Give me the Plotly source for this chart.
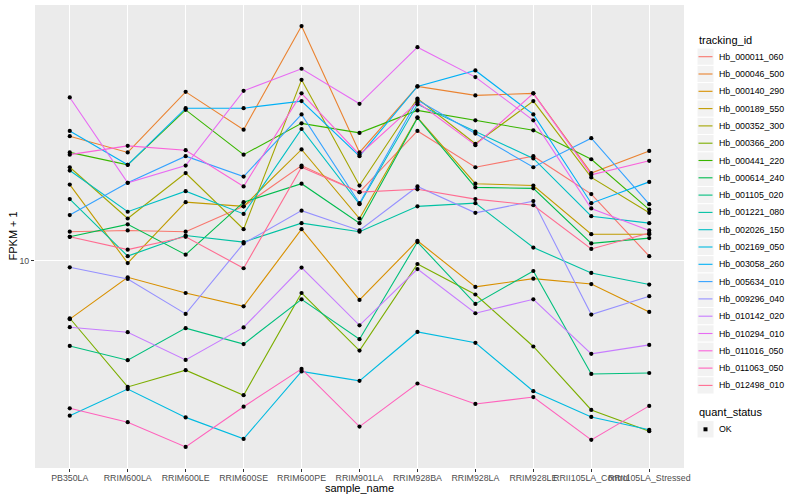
import math
import plotly.graph_objects as go

samples = ["PB350LA", "RRIM600LA", "RRIM600LE", "RRIM600SE", "RRIM600PE", "RRIM901LA",
           "RRIM928BA", "RRIM928LA", "RRIM928LE", "RRII105LA_Control", "RRII105LA_Stressed"]

tracking_ids = ["Hb_000011_060", "Hb_000046_500", "Hb_000140_290", "Hb_000189_550", "Hb_000352_300",
                "Hb_000366_200", "Hb_000441_220", "Hb_000614_240", "Hb_001105_020", "Hb_001221_080",
                "Hb_002026_150", "Hb_002169_050", "Hb_003058_260", "Hb_005634_010", "Hb_009296_040",
                "Hb_010142_020", "Hb_010294_010", "Hb_011016_050", "Hb_011063_050", "Hb_012498_010"]

colors = ["#F8766D", "#EA8331", "#D89000", "#C09B00", "#A3A500", "#7CAE00", "#39B600", "#00BB4E",
          "#00BF7D", "#00C1A3", "#00BFC4", "#00BAE0", "#00B0F6", "#35A2FF", "#9590FF", "#C77CFF",
          "#E76BF3", "#FA62DB", "#FF62BC", "#FF6C91"]

# FPKM + 1 per sample
Hb_000011_060 = [12.1, 12.2, 12.1, 14.3, 18.7, 15.7, 23.5, 18.5, 19.9, 15.5, 10.3]
Hb_000046_500 = [22.7, 20.4, 30.4, 23.7, 46.9, 20.4, 31.5, 29.7, 30.1, 17.8, 20.6]
Hb_000140_290 = [6.80, 8.96, 8.08, 7.40, 12.3, 7.72, 11.4, 8.41, 8.88, 8.57, 7.13]
Hb_000189_550 = [16.5, 9.84, 14.7, 14.3, 20.8, 13.2, 25.7, 16.6, 16.4, 11.9, 11.9]
Hb_000352_300 = [18.5, 13.2, 17.8, 12.3, 32.9, 16.4, 29.1, 21.6, 28.6, 17.3, 13.7]
Hb_000366_200 = [6.84, 4.35, 4.86, 4.12, 8.08, 5.53, 9.78, 8.00, 5.68, 3.74, 3.25]
Hb_000441_220 = [20.4, 18.8, 27.0, 20.1, 24.7, 23.2, 26.9, 25.2, 23.6, 19.5, 14.0]
Hb_000614_240 = [11.7, 12.7, 10.4, 14.7, 16.6, 12.8, 25.6, 16.2, 16.1, 11.2, 11.6]
Hb_001105_020 = [5.70, 5.19, 6.41, 5.77, 7.75, 5.96, 11.3, 7.52, 9.34, 4.74, 4.77]
Hb_001221_080 = [15.0, 10.3, 11.8, 11.3, 12.8, 12.1, 14.3, 14.6, 10.9, 9.22, 8.54]
Hb_002026_150 = [18.1, 13.8, 15.8, 13.6, 23.8, 14.5, 28.0, 23.4, 19.6, 13.4, 12.8]
Hb_002169_050 = [3.60, 4.29, 3.56, 3.09, 4.82, 4.53, 6.25, 5.82, 4.23, 3.57, 3.28]
Hb_003058_260 = [23.5, 18.8, 27.3, 27.3, 28.6, 19.9, 31.5, 35.0, 26.2, 14.6, 16.8]
Hb_005634_010 = [13.5, 16.7, 19.9, 17.4, 26.2, 14.6, 28.8, 23.1, 18.5, 22.4, 14.5]
Hb_009296_040 = [9.57, 8.86, 7.04, 11.2, 13.9, 12.2, 16.3, 13.7, 14.8, 7.01, 7.91]
Hb_010142_020 = [6.45, 6.24, 5.20, 6.44, 9.55, 6.53, 9.46, 7.07, 7.75, 5.41, 5.74]
Hb_010294_010 = [29.3, 16.7, 18.7, 30.6, 35.4, 28.1, 40.8, 33.5, 25.2, 14.1, 12.2]
Hb_011016_050 = [20.1, 21.3, 20.7, 16.3, 30.1, 20.1, 28.4, 21.4, 30.1, 17.6, 19.3]
Hb_011063_050 = [3.78, 3.45, 2.93, 3.82, 4.90, 3.35, 4.45, 3.89, 4.07, 3.07, 3.84]
Hb_012498_010 = [11.7, 10.75, 11.7, 9.51, 18.5, 15.7, 16.0, 15.0, 14.4, 10.8, 12.0]

series = [Hb_000011_060, Hb_000046_500, Hb_000140_290, Hb_000189_550, Hb_000352_300,
          Hb_000366_200, Hb_000441_220, Hb_000614_240, Hb_001105_020, Hb_001221_080,
          Hb_002026_150, Hb_002169_050, Hb_003058_260, Hb_005634_010, Hb_009296_040,
          Hb_010142_020, Hb_010294_010, Hb_011016_050, Hb_011063_050, Hb_012498_010]

quant_status = ["OK"]

FONT = "Liberation Sans, Arial, sans-serif"
W, H = 800, 500
ML, MR, MT, MB = 35, 116, 5, 32
PW, PH = W - ML - MR, H - MT - MB

fig = go.Figure()
for name, vals, col in zip(tracking_ids, series, colors):
    fig.add_trace(go.Scatter(x=samples, y=vals, mode="lines", name=name,
                             line=dict(color=col, width=1.1), showlegend=False,
                             hoverinfo="skip"))
for name, vals in zip(tracking_ids, series):
    fig.add_trace(go.Scatter(x=samples, y=vals, mode="markers", name=name,
                             marker=dict(color="black", size=4.2, symbol="circle"),
                             showlegend=False))

allv = [v for s in series for v in s]
lo, hi = math.log10(min(allv)), math.log10(max(allv))
pad = 0.05 * (hi - lo)

def px(x):
    return (x - ML) / PW

def py(y):
    return (H - MB - y) / PH

shapes = []
annotations = []

# axis titles
annotations.append(dict(text="sample_name", x=0.5, y=py(488), xref="paper", yref="paper",
                        showarrow=False, font=dict(size=11, color="black", family=FONT),
                        xanchor="center", yanchor="middle"))
annotations.append(dict(text="FPKM + 1", x=px(12), y=0.5, xref="paper", yref="paper",
                        showarrow=False, textangle=-90,
                        font=dict(size=11, color="black", family=FONT),
                        xanchor="center", yanchor="middle"))

# legend: tracking_id
key_x0, key_w, key_h = 697, 17, 17.3
first_y = 56.7
annotations.append(dict(text="tracking_id", x=px(key_x0), y=py(40), xref="paper", yref="paper",
                        showarrow=False, font=dict(size=11, color="black", family=FONT),
                        xanchor="left", yanchor="middle"))
for i, (name, col) in enumerate(zip(tracking_ids, colors)):
    cy = first_y + i * key_h
    shapes.append(dict(type="rect", xref="paper", yref="paper",
                       x0=px(key_x0), x1=px(key_x0 + key_w),
                       y0=py(cy - key_h / 2), y1=py(cy + key_h / 2),
                       fillcolor="#F2F2F2", line=dict(color="white", width=1)))
    shapes.append(dict(type="line", xref="paper", yref="paper",
                       x0=px(key_x0 + 1.5), x1=px(key_x0 + key_w - 1.5),
                       y0=py(cy), y1=py(cy), line=dict(color=col, width=1.1)))
    annotations.append(dict(text=name, x=px(717), y=py(cy), xref="paper", yref="paper",
                            showarrow=False, font=dict(size=8.8, color="black", family=FONT),
                            xanchor="left", yanchor="middle"))

# legend: quant_status
annotations.append(dict(text="quant_status", x=px(key_x0), y=py(412.3), xref="paper", yref="paper",
                        showarrow=False, font=dict(size=11, color="black", family=FONT),
                        xanchor="left", yanchor="middle"))
for j, qs in enumerate(quant_status):
    cy = 429.3 + j * key_h
    shapes.append(dict(type="rect", xref="paper", yref="paper",
                       x0=px(key_x0), x1=px(key_x0 + key_w),
                       y0=py(cy - key_h / 2), y1=py(cy + key_h / 2),
                       fillcolor="#F2F2F2", line=dict(color="white", width=1)))
    shapes.append(dict(type="rect", xref="paper", yref="paper",
                       x0=px(key_x0 + key_w / 2 - 2), x1=px(key_x0 + key_w / 2 + 2),
                       y0=py(cy - 2), y1=py(cy + 2),
                       fillcolor="black", line=dict(width=0)))
    annotations.append(dict(text=qs, x=px(717), y=py(cy), xref="paper", yref="paper",
                            showarrow=False, font=dict(size=8.8, color="black", family=FONT),
                            xanchor="left", yanchor="middle"))

fig.update_layout(
    width=W, height=H,
    margin=dict(l=ML, r=MR, t=MT, b=MB, autoexpand=False),
    paper_bgcolor="white", plot_bgcolor="#EBEBEB",
    font=dict(family=FONT, size=9, color="#4D4D4D"),
    showlegend=False,
    shapes=shapes, annotations=annotations,
    xaxis=dict(type="category", categoryorder="array", categoryarray=samples,
               range=[-0.6, len(samples) - 0.4], showgrid=True, gridcolor="white", gridwidth=1.1,
               ticks="outside", ticklen=3, tickcolor="#333333", tickwidth=1,
               ticklabelstandoff=-2,
               tickfont=dict(size=8.8, color="#4D4D4D", family=FONT),
               showline=False, zeroline=False, tickangle=0, automargin=False),
    yaxis=dict(type="log", range=[lo - pad, hi + pad], tickvals=[10], ticktext=["10"],
               showgrid=True, gridcolor="white", gridwidth=1.1,
               ticks="outside", ticklen=3, tickcolor="#333333", tickwidth=1,
               tickfont=dict(size=8.8, color="#4D4D4D", family=FONT),
               showline=False, zeroline=False, automargin=False),
)

fig.write_html("out.html", config={"displayModeBar": False},
               post_script="document.body.style.margin='0';document.body.style.overflow='hidden';")
